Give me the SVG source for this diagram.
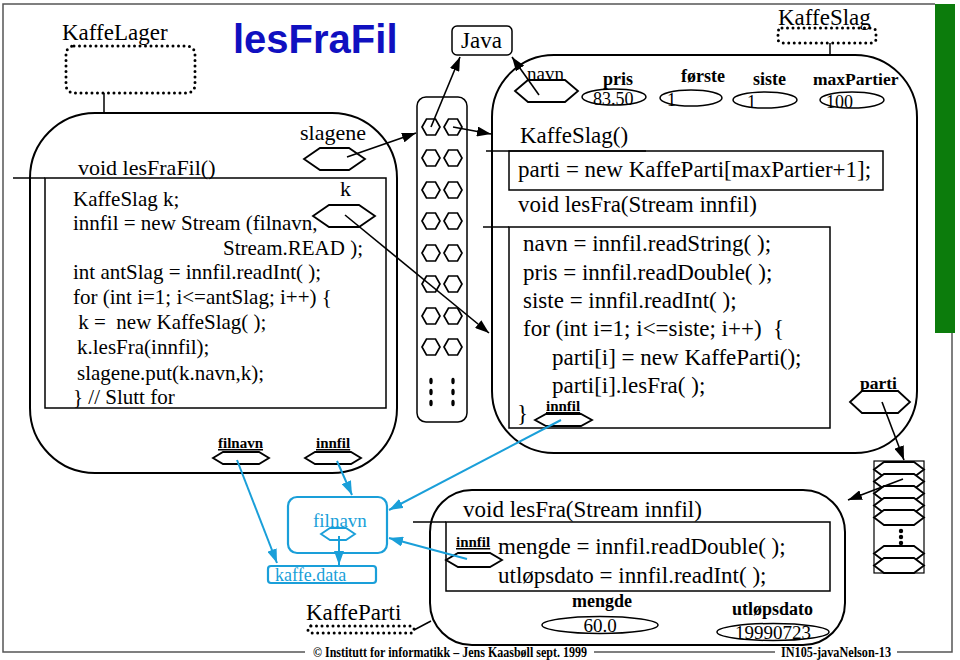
<svg xmlns="http://www.w3.org/2000/svg" xmlns:xlink="http://www.w3.org/1999/xlink" width="960" height="660" viewBox="0 0 960 660">
<style>
.s{font-family:"Liberation Serif","Times New Roman",serif;fill:#000}
.c21{font-size:21px}
.c23{font-size:23px}
.b{font-family:"Liberation Serif","Times New Roman",serif;font-weight:bold;fill:#000}
.ln{fill:none;stroke:#000;stroke-width:1.5}
.obj{fill:none;stroke:#000;stroke-width:2}
.hx{fill:#fff;stroke:#000;stroke-width:1.8}
.dot{fill:none;stroke:#000;stroke-width:3;stroke-dasharray:0 5.5;stroke-linecap:round}
.bt{font-family:"Liberation Serif","Times New Roman",serif;fill:#1a9fd9}
.arr{fill:none;stroke:#000;stroke-width:1.6;marker-end:url(#ah)}
.barr{fill:none;stroke:#1a9fd9;stroke-width:2;marker-end:url(#bh)}
.frame{fill:none;stroke:#555;stroke-width:1.5}
</style>
<defs>
<marker id="ah" viewBox="0 0 14 10" refX="14" refY="5" markerWidth="14" markerHeight="10" markerUnits="userSpaceOnUse" orient="auto"><path d="M0,0 L14,5 L0,10 z" fill="#000"/></marker>
<marker id="bh" viewBox="0 0 14 10" refX="14" refY="5" markerWidth="14" markerHeight="10" markerUnits="userSpaceOnUse" orient="auto"><path d="M0,0 L14,5 L0,10 z" fill="#1a9fd9"/></marker>
<polygon id="h" points="-9,0 -4.5,-8 4.5,-8 9,0 4.5,8 -4.5,8" fill="#fff" stroke="#000" stroke-width="1.7"/>
</defs>

<!-- page frame -->
<g id="frame">
<path class="frame" d="M935,4 L3,4 L3,652 L305,652"/>
<path class="frame" d="M594,652 L775,652"/>
<path class="frame" d="M897,652 L952,652 L952,333"/>
<rect x="935" y="4" width="20" height="329" fill="#0c7c0c"/>
<text class="b" x="313" y="657" font-size="14" textLength="274" lengthAdjust="spacingAndGlyphs">© Institutt for informatikk – Jens Kaasbøll  sept. 1999</text>
<text class="b" x="781" y="657" font-size="14" textLength="110" lengthAdjust="spacingAndGlyphs">IN105-javaNelson-13</text>
</g>

<g id="title">
<text x="233" y="53" font-family="'Liberation Sans',Arial,sans-serif" font-weight="bold" font-size="40" fill="#1010c0">lesFraFil</text>
</g>

<!-- KaffeLager -->
<g id="kaffelager">
<text class="s" x="62" y="40" font-size="23">KaffeLager</text>
<rect class="dot" x="66" y="46" width="129" height="47" rx="8"/>
<line class="ln" x1="104" y1="93" x2="104" y2="113" stroke-width="1"/>
<rect class="obj" x="30" y="113" width="367" height="360" rx="65"/>
<text class="s" x="300" y="140" font-size="22">slagene</text>
<polygon class="hx" points="304,159 320,148 349,148 365,159 349,170 320,170"/>
<text class="s" x="340" y="196" font-size="22">k</text>
<polygon class="hx" points="313,216 329,205 359,205 375,216 359,227 329,227"/>
<text class="s" x="78" y="175" font-size="22">void lesFraFil()</text>
<line class="ln" x1="13" y1="178" x2="45" y2="178"/>
<rect class="ln" x="45" y="178" width="341" height="230" stroke-width="2"/>
<g class="s c21">
<text x="73" y="206">KaffeSlag k;</text>
<text x="73" y="230">innfil = new Stream (filnavn,</text>
<text x="223" y="255">Stream.READ );</text>
<text x="73" y="279">int antSlag = innfil.readInt( );</text>
<text x="73" y="304">for (int i=1; i&lt;=antSlag; i++) {</text>
<text x="73" y="329" xml:space="preserve"> k =  new KaffeSlag( );</text>
<text x="77" y="354">k.lesFra(innfil);</text>
<text x="77" y="380">slagene.put(k.navn,k);</text>
<text x="73" y="404">} // Slutt for</text>
</g>
<text class="b" x="218" y="448" font-size="15" text-decoration="underline">filnavn</text>
<polygon class="hx" points="213,458 223,452 259,452 269,458 259,464 223,464"/>
<text class="b" x="316" y="448" font-size="15" text-decoration="underline">innfil</text>
<polygon class="hx" points="305,458 315,452 351,452 361,458 351,464 315,464"/>
</g>

<!-- Java -->
<g id="java">
<rect class="ln" x="452" y="26" width="60" height="29" rx="5"/>
<text class="s" x="461" y="48" font-size="23">Java</text>
</g>

<!-- hash array -->
<g id="array">
<rect class="ln" x="417" y="97" width="50" height="325" rx="9"/>
<use href="#h" x="431" y="127"/><use href="#h" x="453" y="127"/>
<use href="#h" x="431" y="158"/><use href="#h" x="453" y="158"/>
<use href="#h" x="431" y="190"/><use href="#h" x="453" y="190"/>
<use href="#h" x="431" y="221"/><use href="#h" x="453" y="221"/>
<use href="#h" x="431" y="253"/><use href="#h" x="453" y="253"/>
<use href="#h" x="431" y="284"/><use href="#h" x="453" y="284"/>
<use href="#h" x="431" y="316"/><use href="#h" x="453" y="316"/>
<use href="#h" x="431" y="347"/><use href="#h" x="453" y="347"/>
<g fill="#000">
<ellipse cx="431" cy="381" rx="1.7" ry="3.2"/><ellipse cx="431" cy="392" rx="1.7" ry="3.2"/><ellipse cx="431" cy="403" rx="1.7" ry="3.2"/>
<ellipse cx="453" cy="381" rx="1.7" ry="3.2"/><ellipse cx="453" cy="392" rx="1.7" ry="3.2"/><ellipse cx="453" cy="403" rx="1.7" ry="3.2"/>
</g>
</g>

<!-- KaffeSlag -->
<g id="kaffeslag">
<text class="s" x="778" y="25" font-size="23">KaffeSlag</text>
<rect class="dot" x="778" y="28" width="98" height="15" rx="4"/>
<line class="ln" x1="830" y1="43" x2="830" y2="55" stroke-width="1"/>
<rect class="obj" x="492" y="55" width="425" height="398" rx="62"/>
<text class="s" x="527" y="80" font-size="19">navn</text>
<polygon class="hx" points="515,91 528,80 565,80 578,91 565,102 528,102"/>
<text class="b" x="603" y="85" font-size="18">pris</text>
<ellipse class="ln" cx="614" cy="97" rx="32" ry="8"/>
<text class="s" x="593" y="105" font-size="18">83.50</text>
<text class="b" x="681" y="82" font-size="18">første</text>
<ellipse class="ln" cx="691" cy="98" rx="31" ry="8"/>
<text class="s" x="667" y="106" font-size="18">1</text>
<text class="b" x="753" y="85" font-size="18">siste</text>
<ellipse class="ln" cx="765" cy="100" rx="32" ry="8"/>
<text class="s" x="747" y="108" font-size="18">1</text>
<text class="b" x="813" y="85" font-size="17.5">maxPartier</text>
<ellipse class="ln" cx="852" cy="100" rx="32" ry="8"/>
<text class="s" x="826" y="108" font-size="18">100</text>
<text class="s c23" x="520" y="143">KaffeSlag()</text>
<line class="ln" x1="486" y1="151" x2="646" y2="151"/>
<rect class="ln" x="509" y="151" width="374" height="39" stroke-width="2"/>
<text class="s c23" x="518" y="177">parti = new KaffeParti[maxPartier+1];</text>
<text class="s c23" x="518" y="212">void lesFra(Stream innfil)</text>
<line class="ln" x1="483" y1="227" x2="509" y2="227"/>
<rect class="ln" x="509" y="227" width="321" height="201" stroke-width="2"/>
<g class="s c23">
<text x="523" y="251">navn = innfil.readString( );</text>
<text x="523" y="280">pris = innfil.readDouble( );</text>
<text x="523" y="308">siste = innfil.readInt( );</text>
<text x="523" y="336" xml:space="preserve">for (int i=1; i&lt;=siste; i++)  {</text>
<text x="552" y="365">parti[i] = new KaffeParti();</text>
<text x="552" y="393">parti[i].lesFra( );</text>
<text x="517" y="421">}</text>
</g>
<text class="b" x="546" y="411" font-size="15" text-decoration="underline">innfil</text>
<polygon class="hx" points="535,420 546,414 581,414 592,420 581,426 546,426"/>
<text class="b" x="860" y="389" font-size="17.5">parti</text>
<polygon class="hx" points="850,402 862,391 898,391 910,402 898,413 862,413"/>
</g>

<!-- parti array -->
<g id="partiarray">
<rect x="874" y="461" width="50" height="112" fill="#fff" stroke="#000" stroke-width="1.2"/>
<g class="hx" stroke-width="1.6">
<polygon points="874,469.5 884,462 914,462 924,469.5 914,477 884,477"/>
<polygon points="874,481.5 884,474 914,474 924,481.5 914,489 884,489"/>
<polygon points="874,493.5 884,486 914,486 924,493.5 914,501 884,501"/>
<polygon points="874,505.5 884,498 914,498 924,505.5 914,513 884,513"/>
<polygon points="874,517.5 884,510 914,510 924,517.5 914,525 884,525"/>
<polygon points="874,553.5 884,546 914,546 924,553.5 914,561 884,561"/>
<polygon points="874,565.5 884,558 914,558 924,565.5 914,573 884,573"/>
</g>
<circle cx="901" cy="531" r="2.2" fill="#000"/>
<circle cx="901" cy="537" r="2.2" fill="#000"/>
<circle cx="901" cy="543" r="2.2" fill="#000"/>
</g>

<!-- file object -->
<g id="filobjekt">
<rect x="288" y="497" width="99" height="56" rx="9" fill="none" stroke="#1a9fd9" stroke-width="2.2"/>
<text class="bt" x="313" y="527" font-size="19">filnavn</text>
<polygon points="321,534 330,528 346,528 355,534 346,540 330,540" fill="none" stroke="#1a9fd9" stroke-width="1.8"/>
<rect x="268" y="566" width="108" height="17" rx="3" fill="none" stroke="#1a9fd9" stroke-width="2.2"/>
<text class="bt" x="275" y="581" font-size="18">kaffe.data</text>
</g>

<!-- KaffeParti -->
<g id="kaffeparti">
<text class="s" x="306" y="620" font-size="23">KaffeParti</text>
<rect class="dot" x="308" y="626" width="106" height="7" rx="3"/>
<line class="ln" x1="414" y1="630" x2="431" y2="621" stroke-width="1"/>
<rect class="obj" x="430" y="490" width="415" height="155" rx="42"/>
<text class="s c23" x="463" y="517">void lesFra(Stream innfil)</text>
<line class="ln" x1="413" y1="522" x2="446" y2="522"/>
<rect class="ln" x="446" y="522" width="384" height="69" stroke-width="2"/>
<text class="b" x="456" y="547" font-size="15" text-decoration="underline">innfil</text>
<polygon class="hx" points="446,560 458,553 490,553 502,560 490,567 458,567"/>
<text class="s c23" x="498" y="554">mengde = innfil.readDouble( );</text>
<text class="s c23" x="498" y="583">utløpsdato = innfil.readInt( );</text>
<text class="b" x="572" y="607" font-size="18">mengde</text>
<ellipse class="ln" cx="600" cy="625" rx="58" ry="8.5"/>
<text class="s" x="600" y="632" font-size="19" text-anchor="middle">60.0</text>
<text class="b" x="732" y="615" font-size="18">utløpsdato</text>
<ellipse class="ln" cx="773" cy="632" rx="56" ry="8.5"/>
<text class="s" x="773" y="639" font-size="19" text-anchor="middle">19990723</text>
</g>

<!-- connectors -->
<g id="connectors">
<line class="arr" x1="347" y1="157" x2="416" y2="133"/>
<line class="arr" x1="345" y1="215" x2="489" y2="333"/>
<line class="arr" x1="431" y1="127" x2="460" y2="57"/>
<line class="arr" x1="453" y1="127" x2="491" y2="134"/>
<line class="arr" x1="539" y1="95" x2="512" y2="57"/>
<line class="arr" x1="882" y1="402" x2="904" y2="460"/>
<line class="arr" x1="903" y1="479" x2="848" y2="500"/>
<line class="barr" x1="237" y1="460" x2="277" y2="563"/>
<line class="barr" x1="337" y1="461" x2="352" y2="495"/>
<line class="barr" x1="561" y1="420" x2="389" y2="510"/>
<line class="barr" x1="467" y1="559" x2="389" y2="538"/>
<line class="barr" x1="339" y1="536" x2="339" y2="565"/>
</g>
</svg>
